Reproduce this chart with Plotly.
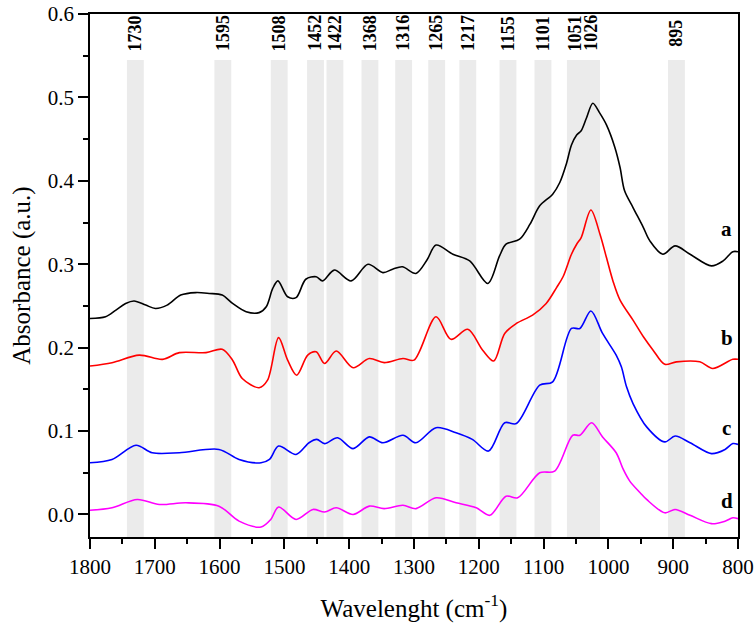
import plotly.graph_objects as go

# ---- data ----
wn_a = [1800, 1776, 1760, 1745, 1732, 1714, 1699, 1681, 1660, 1637, 1616, 1596, 1580, 1559, 1539, 1528,
        1518, 1510, 1495, 1482, 1467, 1451, 1441, 1423, 1397, 1371, 1348, 1333, 1318, 1297, 1280, 1266,
        1240, 1214, 1186, 1168, 1158, 1137, 1121, 1106, 1086, 1075, 1065, 1057, 1049, 1042, 1034, 1024, 1014,
        1003, 990, 982, 975, 962, 946, 936, 916, 897, 874, 841, 823, 808, 800]
abs_a = [0.235, 0.237, 0.245, 0.253, 0.256, 0.251, 0.247, 0.251, 0.263, 0.266, 0.265, 0.263, 0.253, 0.243,
         0.242, 0.249, 0.271, 0.280, 0.261, 0.260, 0.282, 0.285, 0.280, 0.293, 0.280, 0.300, 0.290, 0.294,
         0.297, 0.289, 0.305, 0.323, 0.312, 0.304, 0.277, 0.310, 0.324, 0.330, 0.348, 0.370, 0.384, 0.398,
         0.420, 0.443, 0.455, 0.460, 0.475, 0.493, 0.482, 0.467, 0.440, 0.416, 0.388, 0.368, 0.344, 0.328,
         0.312, 0.322, 0.312, 0.298, 0.304, 0.315, 0.315]

wn_b = [1800, 1766, 1724, 1688, 1662, 1621, 1596, 1580, 1565, 1539, 1526, 1509, 1495, 1481, 1464, 1451,
        1438, 1420, 1394, 1369, 1346, 1317, 1300, 1266, 1243, 1217, 1194, 1177, 1160, 1142, 1117, 1096,
        1080, 1070, 1057, 1049, 1042, 1027, 1013, 1003, 993, 982, 962, 946, 931, 913, 895, 859, 839, 808, 800]
abs_b = [0.178, 0.182, 0.191, 0.186, 0.194, 0.194, 0.198, 0.185, 0.163, 0.152, 0.161, 0.212, 0.185, 0.167,
         0.191, 0.195, 0.181, 0.196, 0.176, 0.187, 0.182, 0.187, 0.185, 0.237, 0.210, 0.222, 0.197, 0.184,
         0.217, 0.229, 0.239, 0.253, 0.272, 0.285, 0.312, 0.324, 0.332, 0.365, 0.336, 0.308, 0.280, 0.257,
         0.233, 0.213, 0.197, 0.180, 0.183, 0.183, 0.175, 0.186, 0.186]

wn_c = [1800, 1766, 1729, 1704, 1662, 1601, 1570, 1536, 1523, 1509, 1482, 1462, 1450, 1438, 1418, 1394,
        1369, 1348, 1317, 1297, 1266, 1235, 1210, 1185, 1160, 1142, 1106, 1086, 1057, 1044, 1027, 1009,
        988, 980, 972, 962, 941, 913, 897, 874, 841, 820, 808, 800]
abs_c = [0.062, 0.066, 0.083, 0.074, 0.074, 0.078, 0.066, 0.062, 0.066, 0.082, 0.072, 0.086, 0.090, 0.085,
         0.092, 0.079, 0.093, 0.086, 0.095, 0.086, 0.104, 0.098, 0.090, 0.076, 0.110, 0.109, 0.155, 0.159,
         0.223, 0.223, 0.244, 0.217, 0.191, 0.177, 0.153, 0.133, 0.105, 0.087, 0.094, 0.086, 0.073, 0.078,
         0.085, 0.084]

wn_d = [1800, 1766, 1727, 1693, 1652, 1601, 1570, 1536, 1521, 1509, 1482, 1456, 1438, 1420, 1394, 1369,
        1346, 1317, 1297, 1266, 1235, 1204, 1183, 1158, 1140, 1106, 1083, 1055, 1044, 1026, 1009, 988,
        977, 967, 951, 941, 913, 897, 874, 841, 820, 808, 800]
abs_d = [0.005, 0.008, 0.018, 0.012, 0.014, 0.010, -0.008, -0.015, -0.006, 0.009, -0.006, 0.006, 0.003,
         0.008, 0.000, 0.010, 0.007, 0.011, 0.007, 0.020, 0.014, 0.008, -0.001, 0.022, 0.020, 0.050, 0.052,
         0.095, 0.095, 0.110, 0.093, 0.074, 0.054, 0.040, 0.026, 0.018, 0.002, 0.006, -0.001, -0.011, -0.008,
         -0.004, -0.005]

band_positions = [1730, 1595, 1508, 1452, 1422, 1368, 1316, 1265, 1217, 1155, 1101, 1051, 1026, 895]
band_labels = [str(b) for b in band_positions]

series_names = ["a", "b", "c", "d"]
series_colors = ["#000000", "#ff0000", "#0000ff", "#ff00ff"]
label_y = [0.342, 0.211, 0.104, 0.016]

x_ticks = list(range(1800, 799, -100))
y_ticks = [0.0, 0.1, 0.2, 0.3, 0.4, 0.5, 0.6]

FONT = "Liberation Serif"

fig = go.Figure()

# grey bands
for b in band_positions:
    fig.add_shape(type="rect", xref="x", yref="y", x0=b - 13, x1=b + 13, y0=-0.027, y1=0.545,
                  fillcolor="#ebebeb", line=dict(width=0), layer="below")

for wn, ab, name, col in zip([wn_a, wn_b, wn_c, wn_d], [abs_a, abs_b, abs_c, abs_d], series_names, series_colors):
    fig.add_trace(go.Scatter(x=wn, y=ab, mode="lines", name=name,
                             line=dict(color=col, width=1.6, shape="spline", smoothing=0.9),
                             showlegend=False))

# band labels
for b, lab in zip(band_positions, band_labels):
    fig.add_annotation(x=b, y=0.577, xref="x", yref="y", text="<b>" + lab + "</b>", textangle=-90,
                       showarrow=False, font=dict(family=FONT, size=18, color="black"),
                       xanchor="center", yanchor="middle")

# series labels
for name, ly in zip(series_names, label_y):
    fig.add_annotation(x=817, y=ly, xref="x", yref="y", text="<b>" + name + "</b>", showarrow=False,
                       font=dict(family=FONT, size=21, color="black"), xanchor="center", yanchor="middle")

fig.update_layout(
    width=756, height=623, autosize=False,
    margin=dict(l=90, r=18, t=14, b=86),
    paper_bgcolor="white", plot_bgcolor="white",
    font=dict(family=FONT, color="black"),
)

fig.update_xaxes(
    range=[1800, 800], tickvals=x_ticks, ticktext=[str(t) for t in x_ticks],
    showline=True, linecolor="black", linewidth=1.8, mirror=True,
    ticks="outside", ticklen=10, tickwidth=1.6, tickcolor="black",
    minor=dict(ticks="outside", dtick=50, ticklen=5, tickwidth=1.6, tickcolor="black", tick0=800),
    showgrid=False, zeroline=False, automargin=False,
    tickfont=dict(family=FONT, size=21, color="black"),
    title=dict(text="Wavelenght (cm<sup>-1</sup>)", font=dict(family=FONT, size=25, color="black"), standoff=22),
)
fig.update_yaxes(
    range=[-0.027, 0.6], tickvals=y_ticks, ticktext=["%.1f" % t for t in y_ticks],
    showline=True, linecolor="black", linewidth=1.8, mirror=True,
    ticks="outside", ticklen=10, tickwidth=1.6, tickcolor="black",
    minor=dict(ticks="outside", dtick=0.05, tick0=0, ticklen=5, tickwidth=1.6, tickcolor="black"),
    showgrid=False, zeroline=False, automargin=False,
    tickfont=dict(family=FONT, size=21, color="black"),
    title=dict(text="Absorbance (a.u.)", font=dict(family=FONT, size=25, color="black"), standoff=10),
)

fig.write_html("out.html")
